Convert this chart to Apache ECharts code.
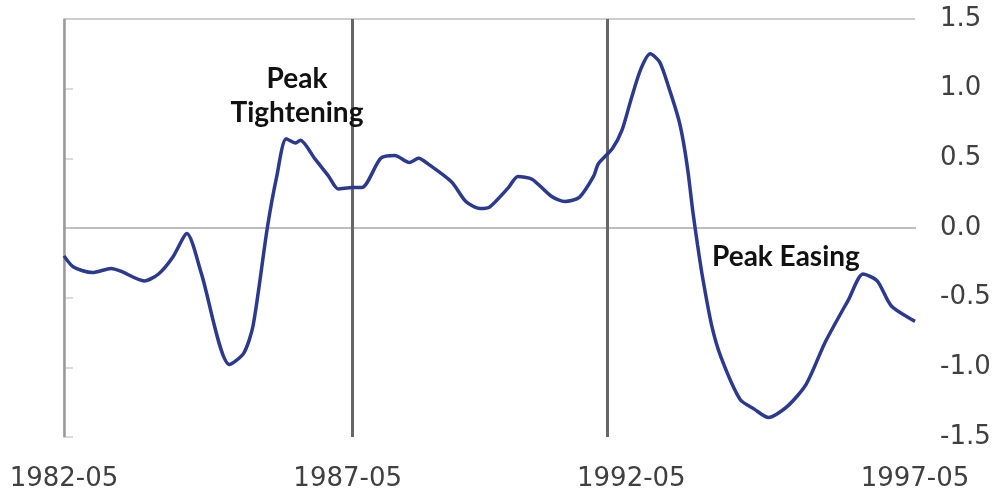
<!DOCTYPE html>
<html>
<head>
<meta charset="utf-8">
<script src="https://cdn.jsdelivr.net/npm/echarts@6/dist/echarts.min.js"></script>
<style>
  html, body { margin: 0; padding: 0; background: #fff; }
  #chart { width: 1000px; height: 498px; }
</style>
</head>
<body>
<div id="chart"></div>
<script>
// ---- data ----
const dates = [
  '1982-05','1982-07','1982-11','1983-03','1983-05','1983-10','1984-01','1984-04','1984-07','1984-10',
  '1985-04','1985-07','1985-09','1985-12','1986-02','1986-04','1986-06','1986-07','1986-10','1987-01',
  '1987-03','1987-06','1987-08','1987-12','1988-03','1988-06','1988-08','1988-10','1989-03','1989-06',
  '1989-09','1989-11','1990-03','1990-05','1990-08','1990-12','1991-03','1991-06','1991-09','1991-10',
  '1992-01','1992-03','1992-05','1992-07','1992-09','1992-11','1993-01','1993-03','1993-04','1993-05',
  '1993-06','1993-07','1993-08','1993-10','1993-12','1994-04','1994-07','1994-10','1995-02','1995-06',
  '1995-10','1996-03','1996-06','1996-09','1996-12','1997-05'
];
const values = [
  -0.20,-0.28,-0.32,-0.29,-0.31,-0.38,-0.33,-0.21,-0.04,-0.32,
  -0.98,-0.90,-0.70, 0.00, 0.37, 0.64, 0.61, 0.63, 0.50, 0.37,
   0.28, 0.29, 0.29, 0.50, 0.52, 0.47, 0.50, 0.46, 0.33, 0.19,
   0.14, 0.15, 0.29, 0.37, 0.35, 0.23, 0.19, 0.22, 0.37, 0.46,
   0.57, 0.70, 0.93, 1.14, 1.25, 1.19, 1.00, 0.78, 0.62, 0.40,
   0.12,-0.12,-0.34,-0.70,-0.93,-1.23,-1.30,-1.36,-1.28,-1.12,
  -0.82,-0.51,-0.33,-0.38,-0.56,-0.67
];
const xTickLabels = ['1982-05','1987-05','1992-05','1997-05'];
const eventDates = ['1987-06','1991-12'];
const yMin = -1.5, yMax = 1.5, yStep = 0.5;
const annotations = { tightening: 'Peak\nTightening', easing: 'Peak Easing' };

// ---- helpers ----
const startDate = xTickLabels[0];
function monthIndex(d) {
  const [y, m] = d.split('-').map(Number);
  const [y0, m0] = startDate.split('-').map(Number);
  return (y - y0) * 12 + (m - m0);
}
function labelFor(idx) {
  const [y0, m0] = startDate.split('-').map(Number);
  const total = y0 * 12 + (m0 - 1) + Math.round(idx);
  const y = Math.floor(total / 12), m = total % 12 + 1;
  return y + '-' + String(m).padStart(2, '0');
}
const xMax = monthIndex(xTickLabels[xTickLabels.length - 1]);
const xStep = monthIndex(xTickLabels[1]);
const seriesData = dates.map((d, i) => [monthIndex(d), values[i]]);

const chart = echarts.init(document.getElementById('chart'), null, { renderer: 'canvas' });
const option = {
  animation: false,
  backgroundColor: '#ffffff',
  grid: { left: 64, right: 85, top: 19, bottom: 61, containLabel: false },
  xAxis: {
    type: 'value', min: 0, max: xMax, interval: xStep,
    axisLine: { show: true, lineStyle: { color: '#a8a8a8', width: 2 } },
    axisTick: { show: false },
    splitLine: { show: false },
    axisLabel: {
      formatter: v => labelFor(v),
      fontFamily: 'DejaVu Sans', fontSize: 26, color: '#404040', margin: 29
    }
  },
  yAxis: {
    type: 'value', position: 'right', min: yMin, max: yMax, interval: yStep,
    axisLine: { show: true, lineStyle: { color: '#bdbdbd', width: 1.5 } },
    axisTick: { show: true, inside: false, length: 9, lineStyle: { color: '#cfcfcf', width: 1.5 } },
    splitLine: { show: false },
    axisLabel: {
      formatter: v => v.toFixed(1),
      fontFamily: 'DejaVu Sans', fontSize: 26, color: '#404040', margin: 25, align: 'left'
    }
  },
  series: [{
    type: 'line',
    data: seriesData,
    smooth: 0.25,
    showSymbol: false,
    z: 5,
    lineStyle: { color: '#2b3a8e', width: 3.5 },
    markLine: {
      silent: true, symbol: 'none', label: { show: false }, z: 1,
      data: [
        { yAxis: 0, lineStyle: { color: '#c4c4c4', width: 1.5, type: 'solid' } },
        { yAxis: yMax, lineStyle: { color: '#cdcdcd', width: 2, type: 'solid' } },
        { xAxis: 0, lineStyle: { color: '#9a9a9a', width: 2.5, type: 'solid' } },
        { xAxis: monthIndex(eventDates[0]), lineStyle: { color: '#666666', width: 3, type: 'solid' } },
        { xAxis: monthIndex(eventDates[1]), lineStyle: { color: '#666666', width: 3, type: 'solid' } }
      ]
    }
  }],
  graphic: [
    { type: 'text', x: 297, y: 62, z: 10,
      style: { text: annotations.tightening, font: 'bold 28px Lato', fill: '#111',
               align: 'center', verticalAlign: 'top', lineHeight: 34 } },
    { type: 'text', x: 712, y: 243, z: 10,
      style: { text: annotations.easing, font: 'bold 28px Lato', fill: '#111',
               align: 'left', verticalAlign: 'top' } }
  ]
};
chart.setOption(option);
</script>
</body>
</html>
